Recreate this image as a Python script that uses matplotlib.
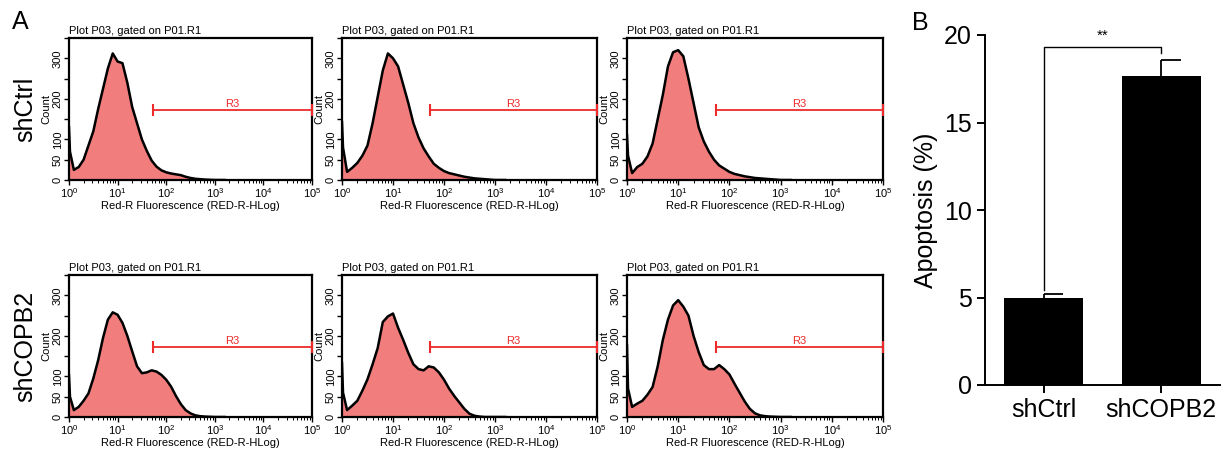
import numpy as np
import matplotlib.pyplot as plt
from matplotlib.ticker import LogLocator, NullFormatter

plt.rcParams['font.family'] = ['Liberation Sans', 'DejaVu Sans']
plt.rcParams['mathtext.fontset'] = 'custom'
plt.rcParams['mathtext.rm'] = 'Liberation Sans'
plt.rcParams['mathtext.it'] = 'Liberation Sans:italic'

log_pos = [0.0, 0.02, 0.1, 0.2, 0.3, 0.4, 0.5, 0.6, 0.7, 0.8, 0.9, 1.0, 1.1,
           1.2, 1.3, 1.4, 1.5, 1.6, 1.7, 1.8, 1.9, 2.0, 2.1, 2.2, 2.3, 2.4,
           2.5, 2.6, 2.7, 2.8, 3.0, 3.2]

ctrl_a = [130, 70, 25, 32, 50, 85, 120, 175, 225, 275, 312, 292, 288, 240,
          180, 140, 100, 72, 48, 33, 24, 19, 16, 14, 12, 8, 5, 3, 2, 1, 0, 0]
ctrl_b = [143, 80, 20, 30, 42, 60, 85, 140, 205, 270, 312, 300, 280, 235,
          190, 140, 105, 78, 58, 40, 30, 22, 17, 14, 11, 8, 6, 4, 3, 2, 0, 0]
ctrl_c = [111, 60, 17, 32, 40, 58, 90, 150, 210, 280, 315, 320, 305, 250,
          190, 130, 95, 70, 50, 36, 28, 20, 15, 12, 9, 7, 5, 4, 3, 2, 0, 0]
copb2_a = [103, 50, 17, 25, 40, 58, 95, 140, 195, 240, 258, 252, 232, 200,
           162, 125, 108, 110, 115, 112, 104, 92, 75, 52, 32, 17, 9, 4, 2, 1, 0, 0]
copb2_b = [133, 60, 17, 28, 40, 65, 93, 130, 170, 234, 248, 255, 220, 190,
           158, 130, 118, 115, 125, 122, 110, 92, 70, 52, 36, 20, 8, 3, 1, 0, 0, 0]
copb2_c = [177, 70, 25, 33, 40, 55, 74, 125, 190, 240, 275, 288, 272, 250,
           200, 160, 128, 118, 118, 128, 118, 105, 82, 60, 38, 20, 9, 4, 2, 1, 0, 0]

hist_rows = [[ctrl_a, ctrl_b, ctrl_c], [copb2_a, copb2_b, copb2_c]]
row_names = ['shCtrl', 'shCOPB2']

# R3 gate
gate_lo, gate_hi, gate_y = 54, 1e5, 172

# panel B
groups = ['shCtrl', 'shCOPB2']
apoptosis = [5.0, 17.67]
apoptosis_sem = [0.19, 0.9]

W, H = 1223, 449
fig = plt.figure(figsize=(W / 100, H / 100), dpi=100)


def px_axes(l, t, r, b):
    return fig.add_axes([l / W, 1 - b / H, (r - l) / W, (b - t) / H])


cols = [(69, 312), (342, 597), (627, 883)]
rows = [(38, 180), (275, 417)]
fill_col = '#f27d7d'
gate_col = '#ee2a2a'
count_ticks = [0, 50, 100, 150, 200, 250, 300, 350]
count_labels = ['0', '50', '100', '', '200', '', '300', '']

x_vals = 10 ** np.array(log_pos)
for r, (top, bot) in enumerate(rows):
    for c, (left, right) in enumerate(cols):
        ax = px_axes(left, top, right, bot)
        cnt = hist_rows[r][c]
        ax.fill_between(x_vals, cnt, color=fill_col, lw=0)
        ax.plot(x_vals, cnt, color='black', lw=1.8)
        ax.set_xscale('log')
        ax.set_xlim(1, 1e5)
        ax.set_ylim(0, 350)

        # gate
        ax.plot([gate_lo, gate_hi], [gate_y, gate_y], color=gate_col, lw=1.3,
                marker='|', markersize=9, mew=1.5, clip_on=False, zorder=5)
        ax.text(np.sqrt(gate_lo * gate_hi), gate_y + 4, 'R3', color=gate_col,
                fontsize=8, ha='center', va='bottom')

        ax.set_xticks([10 ** k for k in range(6)])
        ax.set_xticklabels([r'$10^{%d}$' % k for k in range(6)], fontsize=8)
        ax.xaxis.set_minor_locator(LogLocator(base=10, subs=np.arange(2, 10), numticks=20))
        ax.xaxis.set_minor_formatter(NullFormatter())
        ax.set_yticks(count_ticks)
        ax.set_yticklabels(count_labels, rotation=90, va='center', fontsize=8)
        ax.tick_params(which='major', direction='out', length=3.5, width=1, pad=1)
        ax.tick_params(which='minor', direction='out', length=2, width=0.7)
        for s in ax.spines.values():
            s.set_linewidth(1.6)

        ax.set_xlabel('Red-R Fluorescence (RED-R-HLog)', fontsize=8, labelpad=1)
        ax.set_ylabel('Count', fontsize=8)
        ax.yaxis.set_label_coords(-18 / (right - left), 0.5)
        ax.set_title('Plot P03, gated on P01.R1', loc='left', fontsize=8, pad=3)

for r, (top, bot) in enumerate(rows):
    fig.text(25 / W, 1 - ((top + bot) / 2) / H, row_names[r], rotation=90,
             fontsize=18, ha='center', va='center')

fig.text(20 / W, 1 - 22 / H, 'A', fontsize=18, ha='center', va='center')
fig.text(920 / W, 1 - 23 / H, 'B', fontsize=18, ha='center', va='center')

# panel B bar chart
axb = px_axes(985, 35, 1220, 385)
pos = np.arange(len(groups))
axb.bar(pos, apoptosis, width=0.675, color='black')
tops = np.array(apoptosis) + np.array(apoptosis_sem)
axb.vlines(pos, apoptosis, tops, color='black', lw=1.3)
axb.hlines(tops, pos, pos + 0.165, color='black', lw=1.3)

# significance bracket
br_y = 19.3
axb.plot([pos[0], pos[0], pos[1], pos[1]],
         [tops[0] + 0.24, br_y, br_y, tops[1] + 0.42], color='black', lw=1)
axb.text(0.5, br_y + 0.25, '**', ha='center', va='bottom', fontsize=11)

axb.set_xlim(-0.5, 1.5)
axb.set_ylim(0, 20)
axb.set_yticks([0, 5, 10, 15, 20])
axb.set_xticks(pos)
axb.set_xticklabels(groups)
axb.tick_params(labelsize=18, direction='out', length=6, width=1.4)
axb.set_ylabel('Apoptosis (%)', fontsize=18)
axb.spines['top'].set_visible(False)
axb.spines['right'].set_visible(False)
axb.spines['left'].set_linewidth(1.4)
axb.spines['bottom'].set_linewidth(1.4)

fig.savefig('out.png', dpi=100)
